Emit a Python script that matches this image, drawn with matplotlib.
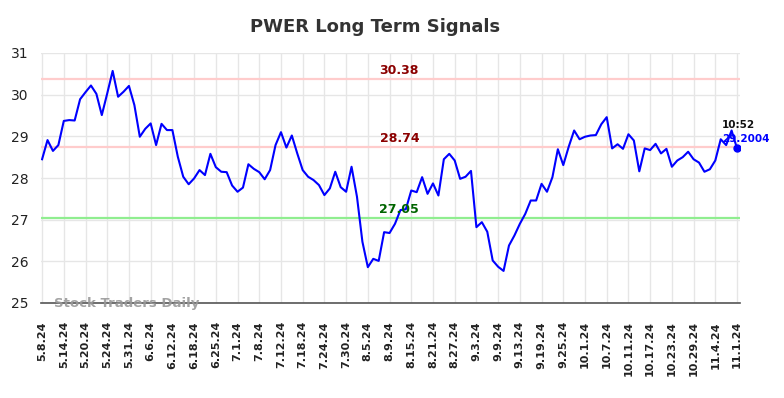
import matplotlib
matplotlib.use("Agg")
import matplotlib.pyplot as plt

prices = [
    28.45, 28.91, 28.65, 28.79, 29.37, 29.39, 29.38, 29.89, 30.06, 30.22,
    30.02, 29.51, 30.03, 30.57, 29.95, 30.07, 30.21, 29.75, 28.99, 29.18,
    29.31, 28.79, 29.30, 29.15, 29.15, 28.51, 28.03, 27.85, 27.99, 28.19,
    28.07, 28.58, 28.26, 28.15, 28.14, 27.82, 27.67, 27.77, 28.33, 28.22,
    28.14, 27.97, 28.19, 28.79, 29.10, 28.73, 29.02, 28.59, 28.19, 28.03,
    27.95, 27.83, 27.59, 27.75, 28.15, 27.78, 27.67, 28.27, 27.55, 26.47,
    25.86, 26.06, 26.01, 26.70, 26.68, 26.90, 27.23, 27.25, 27.70, 27.66,
    28.02, 27.62, 27.87, 27.58, 28.45, 28.58, 28.42, 27.98, 28.03, 28.17,
    26.82, 26.94, 26.71, 26.02, 25.87, 25.77, 26.38, 26.62, 26.90, 27.14,
    27.46, 27.46, 27.86, 27.67, 28.02, 28.69, 28.31, 28.75, 29.14, 28.93,
    28.99, 29.02, 29.03, 29.29, 29.46, 28.71, 28.81, 28.70, 29.05, 28.90,
    28.16, 28.71, 28.67, 28.82, 28.59, 28.70, 28.27, 28.42, 28.50, 28.63,
    28.45, 28.37, 28.15, 28.21, 28.42, 28.93, 28.79, 29.14, 28.71,
]

tick_labels = [
    "5.8.24", "5.14.24", "5.20.24", "5.24.24", "5.31.24", "6.6.24", "6.12.24",
    "6.18.24", "6.25.24", "7.1.24", "7.8.24", "7.12.24", "7.18.24", "7.24.24",
    "7.30.24", "8.5.24", "8.9.24", "8.15.24", "8.21.24", "8.27.24", "9.3.24",
    "9.9.24", "9.13.24", "9.19.24", "9.25.24", "10.1.24", "10.7.24", "10.11.24",
    "10.17.24", "10.23.24", "10.29.24", "11.4.24", "11.1.24",
]
tick_step = 4

upper_level = 30.38
mid_level = 28.74
lower_level = 27.05

last_time = "10:52"
last_price_label = "29.2004"

W, H = 784, 398
fig = plt.figure(figsize=(W / 100, H / 100), dpi=100)
ax = fig.add_axes([41 / W, (H - 303) / H, (740 - 41) / W, (303 - 53) / H])

x = list(range(len(prices)))

ax.axhline(upper_level, color="#ffcccc", lw=1.6, zorder=1)
ax.axhline(mid_level, color="#ffcccc", lw=1.6, zorder=1)
ax.axhline(lower_level, color="#90ee90", lw=1.6, zorder=1)

ax.plot(x, prices, color="#0000ff", lw=1.5, zorder=3)
ax.plot([x[-1]], [prices[-1]], "o", color="#0000ff", ms=5, zorder=4)

ax.set_xlim(-0.2, len(prices) - 1 + 0.55)
ax.set_ylim(25, 31)
ax.set_yticks(range(25, 32))
ticks = list(range(0, len(prices), tick_step))
ax.set_xticks(ticks)
ax.set_xticklabels(tick_labels, rotation=90, fontsize=8, fontweight="bold", color="#222222")
ax.tick_params(axis="x", length=0, pad=13)
ax.tick_params(axis="y", length=0, pad=9, labelsize=10, labelcolor="#222222")

ax.grid(True, color="#e6e6e6", lw=1, zorder=0)
ax.set_axisbelow(True)
for s in ["top", "right", "left"]:
    ax.spines[s].set_visible(False)
ax.spines["bottom"].set_color("#555555")
ax.spines["bottom"].set_linewidth(1.2)

xmid = 65.8
ax.text(xmid, upper_level + 0.04, f"{upper_level:.2f}", color="#8b0000", fontsize=9,
        fontweight="bold", ha="center", va="bottom", zorder=5)
ax.text(xmid, mid_level + 0.04, f"{mid_level:.2f}", color="#8b0000", fontsize=9,
        fontweight="bold", ha="center", va="bottom", zorder=5)
ax.text(xmid, lower_level + 0.04, f"{lower_level:.2f}", color="#006400", fontsize=9,
        fontweight="bold", ha="center", va="bottom", zorder=5)

ax.text(2.2, 25.0, "Stock Traders Daily", color="#999999", fontsize=9.5,
        fontweight="bold", ha="left", va="center", alpha=0.9, zorder=5)

fig.text(722 / W, 1 - 125 / H, last_time, color="#111111", fontsize=7.5,
         fontweight="bold", ha="left", va="center")
fig.text(722 / W, 1 - 139 / H, last_price_label, color="#0000ff", fontsize=7.5,
         fontweight="bold", ha="left", va="center")

fig.text(375 / W, 1 - 27 / H, "PWER Long Term Signals", color="#333333", fontsize=13,
         fontweight="bold", ha="center", va="center")

fig.savefig("out.png", dpi=100)
